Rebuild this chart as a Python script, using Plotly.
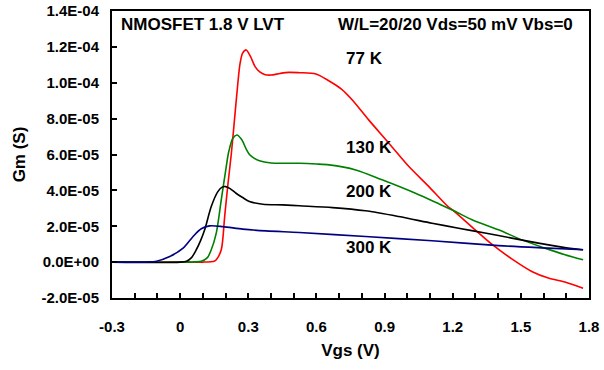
import numpy as np
import plotly.graph_objects as go

# Gm values are given in units of 1e-5 S
UNIT = 1e-5

vgs_77 = [-0.3, 0.0, 0.10, 0.15, 0.159, 0.181, 0.196, 0.21, 0.225, 0.238, 0.254, 0.264, 0.275, 0.291,
          0.31, 0.33, 0.349, 0.375, 0.40, 0.44, 0.479, 0.525, 0.598, 0.656, 0.71, 0.758, 0.83, 0.919,
          1.007, 1.095, 1.179, 1.204, 1.299, 1.372, 1.46, 1.548, 1.621, 1.694, 1.774]
gm_77 = [0.0, 0.0, 0.0, 0.05, 0.13, 0.69, 2.54, 4.3, 6.0, 7.76, 9.97, 11.09, 11.65, 11.83,
         11.45, 10.9, 10.62, 10.45, 10.43, 10.52, 10.58, 10.56, 10.49, 10.1, 9.65, 9.04, 7.93, 6.63,
         5.33, 4.21, 3.10, 2.86, 1.80, 1.0, 0.18, -0.52, -0.89, -1.11, -1.45]

vgs_130 = [-0.3, 0.0, 0.093, 0.12, 0.137, 0.159, 0.181, 0.203, 0.213, 0.232, 0.25, 0.27, 0.291,
           0.305, 0.325, 0.349, 0.4, 0.451, 0.525, 0.6, 0.656, 0.773, 0.889, 1.036, 1.139, 1.212,
           1.285, 1.402, 1.504, 1.606, 1.694, 1.774]
gm_130 = [0.0, 0.0, 0.05, 0.25, 0.69, 1.62, 3.47, 5.33, 6.1, 6.91, 7.09, 6.85, 6.3,
          6.0, 5.8, 5.65, 5.53, 5.51, 5.51, 5.47, 5.42, 5.14, 4.59, 3.84, 3.25, 2.82,
          2.36, 1.80, 1.24, 0.78, 0.41, 0.13]

vgs_200 = [-0.3, 0.0, 0.028, 0.05, 0.071, 0.09, 0.108, 0.137, 0.166, 0.185, 0.2, 0.22, 0.246,
           0.275, 0.305, 0.364, 0.451, 0.525, 0.671, 0.816, 0.962, 1.109, 1.226, 1.342, 1.46,
           1.577, 1.694, 1.774]
gm_200 = [0.0, 0.0, 0.05, 0.25, 0.69, 1.2, 1.80, 3.10, 3.93, 4.18, 4.21, 4.1, 3.84,
          3.6, 3.38, 3.23, 3.19, 3.14, 3.04, 2.86, 2.54, 2.17, 1.89, 1.62, 1.34,
          1.06, 0.81, 0.69]

vgs_300 = [-0.3, -0.15, -0.104, -0.046, 0.013, 0.057, 0.093, 0.13, 0.188, 0.276, 0.378, 0.525,
           0.816, 1.109, 1.402, 1.621, 1.774]
gm_300 = [0.0, 0.01, 0.05, 0.31, 0.78, 1.43, 1.86, 2.02, 1.98, 1.84, 1.74, 1.65,
          1.43, 1.19, 0.92, 0.78, 0.69]

series = [
    ("77 K", vgs_77, gm_77, "#FF0000"),
    ("130 K", vgs_130, gm_130, "#008000"),
    ("200 K", vgs_200, gm_200, "#000000"),
    ("300 K", vgs_300, gm_300, "#000080"),
]

y_tickvals = [-2e-5, 0, 2e-5, 4e-5, 6e-5, 8e-5, 1e-4, 1.2e-4, 1.4e-4]
y_ticktext = ["-2.0E-05", "0.0E+00", "2.0E-05", "4.0E-05", "6.0E-05", "8.0E-05",
              "1.0E-04", "1.2E-04", "1.4E-04"]
x_tickvals = [-0.3, 0, 0.3, 0.6, 0.9, 1.2, 1.5, 1.8]
x_ticktext = ["-0.3", "0", "0.3", "0.6", "0.9", "1.2", "1.5", "1.8"]

labels = [("77 K", 0.722, 11.33), ("130 K", 0.722, 6.37), ("200 K", 0.722, 3.92), ("300 K", 0.722, 0.80)]

FONT = "Liberation Sans, Arial, sans-serif"

fig = go.Figure()
for name, x, y, c in series:
    fig.add_trace(go.Scatter(x=x, y=np.array(y) * UNIT, mode="lines", name=name,
                             line=dict(color=c, width=1.6, shape="spline", smoothing=0.8)))

for txt, x, y in labels:
    fig.add_annotation(x=x, y=y * UNIT, text=txt, showarrow=False, xanchor="left", yanchor="middle",
                       font=dict(family=FONT, size=17, color="black", weight="bold"))

fig.add_annotation(x=-0.269, y=13.22 * UNIT, text="NMOSFET 1.8 V LVT", showarrow=False,
                   xanchor="left", yanchor="middle",
                   font=dict(family=FONT, size=17, color="black", weight="bold"))
fig.add_annotation(x=1.739, y=13.22 * UNIT, text="W/L=20/20 Vds=50 mV Vbs=0", showarrow=False,
                   xanchor="right", yanchor="middle",
                   font=dict(family=FONT, size=17, color="black", weight="bold"))

fig.update_layout(
    width=604, height=370,
    margin=dict(l=112, r=15, t=11, b=72, autoexpand=False),
    paper_bgcolor="white", plot_bgcolor="white",
    showlegend=False,
    font=dict(family=FONT, size=15, color="black", weight="bold"),
)
fig.update_xaxes(
    range=[-0.3, 1.8], tickvals=x_tickvals, ticktext=x_ticktext, automargin=False,
    ticks="inside", ticklen=5, tickwidth=1.5, tickcolor="black",
    minor=dict(dtick=0.1, tick0=-0.3, ticks="inside", ticklen=5, tickwidth=1.5, tickcolor="black", showgrid=False),
    showline=True, linewidth=2, linecolor="black", mirror=True,
    showgrid=False, zeroline=False, ticklabelstandoff=14,
    title=dict(text="Vgs (V)", font=dict(family=FONT, size=17, weight="bold"), standoff=10),
)
fig.update_yaxes(
    range=[-2e-5, 1.4e-4], tickvals=y_tickvals, ticktext=y_ticktext, automargin=False,
    ticks="inside", ticklen=5, tickwidth=1.5, tickcolor="black",
    showline=True, linewidth=2, linecolor="black", mirror=True,
    showgrid=False, zeroline=False, ticklabelstandoff=8,
    title=dict(text="Gm (S)", font=dict(family=FONT, size=17, weight="bold"), standoff=12),
)

fig.write_html("out.html")
